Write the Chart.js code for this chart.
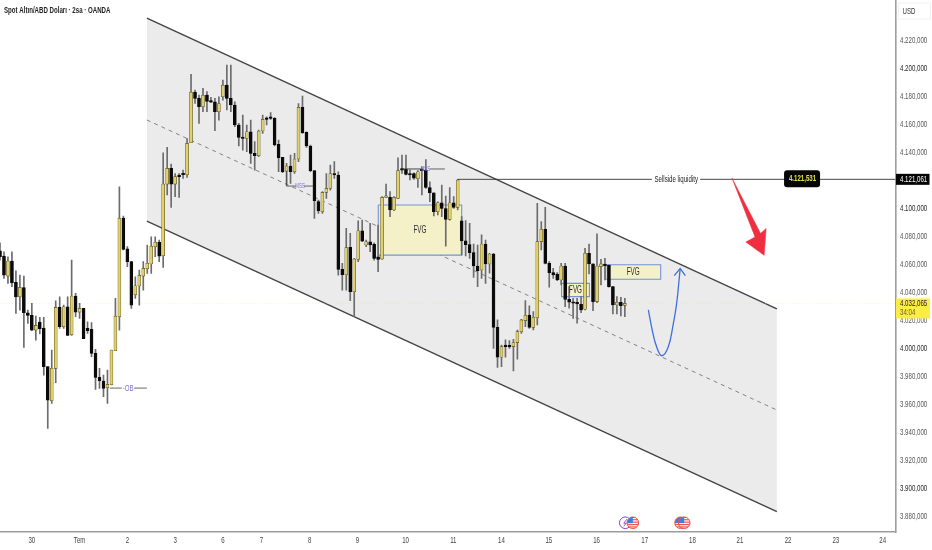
<!DOCTYPE html>
<html>
<head>
<meta charset="utf-8">
<title>Spot Altın/ABD Doları</title>
<script src="https://cdn.jsdelivr.net/npm/chart.js@4"></script>
<style>
  html, body { margin: 0; padding: 0; background: #fff; }
  canvas { display: block; }
</style>
</head>
<body>
<canvas id="goldChart" width="932" height="550"></canvas>
<script>
// ── 2h candles, one entry per bar, left to right ──
const opens = [
  4069.7,4065.9,4051.6,4062.3,4047.1,4036.8,4043.3,4025.4,4023.5,4013.0,
  4018.8,4014.5,3986.9,3962.6,3985.7,4029.2,4015.4,4029.7,4009.7,4037.3,
  4025.9,4028.5,4014.2,4013.5,3996.4,3979.2,3976.6,3971.9,3974.0,3998.3,
  4022.6,4093.0,4071.1,4062.0,4038.3,4044.5,4051.6,4056.9,4060.2,4072.6,
  4075.9,4066.1,4117.3,4128.5,4117.3,4123.0,4124.5,4124.0,4146.9,4183.0,
  4178.5,4172.6,4180.9,4176.4,4176.1,4169.0,4179.7,4188.0,4178.5,4173.8,
  4159.5,4150.4,4149.9,4154.7,4139.2,4137.6,4155.2,4164.7,4164.7,4164.2,
  4145.7,4136.4,4126.6,4130.2,4126.1,4135.2,4172.1,4154.2,4144.5,4126.9,
  4104.9,4097.6,4111.4,4114.2,4124.9,4123.8,4056.4,4052.6,4072.1,4040.4,
  4063.5,4084.0,4073.8,4076.1,4074.2,4065.4,4063.8,4107.8,4107.8,4098.8,
  4107.1,4128.0,4127.8,4124.2,4124.9,4121.1,4127.3,4127.3,4114.9,4111.1,
  4097.6,4104.0,4099.9,4092.1,4104.0,4100.7,4091.0,4076.7,4074.1,4068.4,
  4058.8,4056.0,4074.5,4060.3,4067.4,4015.0,3993.6,4001.7,4001.4,4001.2,
  4004.1,4011.9,4019.8,4023.8,4015.0,4021.9,4076.2,4085.0,4060.7,4054.1,
  4053.1,4048.8,4058.8,4035.0,4032.9,4032.6,4031.4,4027.9,4067.9,4060.3,
  4033.4,4058.4,4059.8,4059.5,4044.1,4031.0,4032.9,4030.7
];
const closes = [
  4065.4,4052.3,4062.3,4046.8,4036.8,4043.5,4025.4,4023.5,4013.0,4016.4,
  4014.0,3986.9,3963.0,3985.7,4029.2,4015.4,4029.7,4009.2,4037.3,4025.9,
  4028.5,4006.9,4012.6,3996.4,3979.2,3976.9,3971.4,3974.2,3998.8,4023.0,
  4093.0,4070.7,4061.9,4030.9,4044.7,4052.1,4057.1,4060.7,4073.0,4075.7,
  4065.9,4117.3,4128.5,4117.3,4122.6,4122.6,4124.0,4146.4,4183.0,4178.5,
  4172.6,4180.7,4176.4,4175.9,4169.0,4174.9,4188.0,4178.5,4173.8,4159.5,
  4150.7,4149.9,4154.7,4139.2,4137.6,4155.2,4163.5,4163.5,4164.2,4145.2,
  4136.1,4126.1,4130.2,4126.1,4135.2,4172.1,4154.0,4144.5,4126.9,4105.4,
  4098.3,4111.4,4114.2,4124.9,4123.8,4056.4,4052.6,4071.9,4040.4,4063.8,
  4084.0,4076.6,4076.1,4073.8,4064.2,4063.5,4107.8,4108.8,4098.8,4107.8,
  4126.9,4127.3,4124.2,4123.8,4121.6,4126.1,4126.9,4114.9,4111.1,4097.6,
  4104.0,4099.9,4092.1,4104.0,4100.7,4120.2,4076.7,4074.1,4068.4,4058.8,
  4055.5,4074.5,4060.3,4067.4,4015.0,3993.6,4001.2,4001.2,4001.0,4004.1,
  4011.9,4020.3,4023.6,4015.0,4022.2,4076.2,4085.0,4060.7,4054.1,4052.4,
  4048.8,4058.8,4035.0,4032.9,4032.2,4031.7,4027.4,4067.9,4060.3,4033.4,
  4058.8,4060.3,4059.1,4044.1,4031.0,4032.9,4030.5,4032.1
];
const highs = [
  4075.4,4069.0,4065.4,4069.0,4055.4,4052.3,4051.6,4027.3,4032.1,4023.0,
  4022.1,4022.1,3986.9,3998.8,4034.0,4036.8,4030.9,4036.8,4063.0,4039.2,
  4032.1,4028.5,4019.0,4018.3,3999.2,3985.7,3980.9,3984.5,3998.8,4035.7,
  4115.4,4094.5,4072.6,4062.0,4051.1,4055.9,4061.9,4073.8,4079.7,4079.7,
  4077.3,4139.7,4143.5,4131.6,4124.9,4124.9,4127.3,4149.9,4195.7,4184.5,
  4180.9,4185.7,4183.3,4179.2,4178.5,4179.7,4191.6,4202.3,4202.3,4176.1,
  4160.7,4166.6,4159.5,4163.0,4147.6,4155.9,4166.6,4165.4,4168.3,4164.9,
  4148.8,4136.4,4132.1,4138.0,4139.2,4174.9,4180.2,4154.7,4145.2,4126.9,
  4105.9,4111.9,4124.9,4130.9,4133.3,4126.1,4060.7,4085.7,4082.1,4064.2,
  4091.1,4091.6,4077.3,4089.2,4075.4,4088.0,4108.3,4117.3,4111.9,4108.3,
  4136.1,4138.0,4138.0,4127.3,4125.4,4126.9,4129.7,4134.9,4119.0,4111.1,
  4104.7,4116.6,4108.8,4114.9,4108.3,4120.7,4094.1,4091.2,4089.3,4074.5,
  4073.8,4081.0,4077.4,4067.9,4067.9,4020.3,4002.4,4006.0,4005.5,4006.4,
  4013.1,4020.7,4034.1,4030.3,4026.2,4103.6,4090.5,4100.7,4061.9,4057.2,
  4054.1,4060.7,4060.7,4044.1,4035.7,4035.7,4036.9,4071.4,4074.5,4060.3,
  4081.7,4063.6,4064.3,4059.5,4044.1,4036.9,4036.4,4035.7
];
const lows = [
  4063.0,4049.9,4046.4,4044.0,4024.9,4027.3,4000.7,4017.8,4012.6,4005.9,
  4010.2,3980.9,3942.8,3960.7,3975.4,4014.2,4014.2,4009.2,4009.2,4022.6,
  4021.4,4006.9,4010.7,3994.0,3970.7,3971.4,3965.4,3960.7,3973.8,3998.3,
  4013.0,4070.2,4058.3,4028.5,4035.7,4030.9,4041.6,4053.5,4053.5,4065.4,
  4061.9,4057.8,4109.5,4100.7,4108.3,4107.8,4121.4,4122.1,4146.9,4174.9,
  4160.7,4169.0,4169.0,4175.4,4155.4,4163.0,4177.3,4170.2,4169.0,4158.3,
  4144.5,4141.6,4140.4,4132.1,4127.3,4136.9,4153.5,4159.5,4163.5,4144.5,
  4126.1,4125.4,4116.6,4117.8,4124.9,4133.3,4153.5,4143.5,4126.1,4092.8,
  4096.4,4096.4,4107.1,4113.0,4121.4,4052.3,4041.6,4041.6,4034.0,4022.6,
  4061.9,4076.1,4072.6,4069.0,4062.9,4054.7,4063.5,4107.8,4094.0,4098.3,
  4107.1,4124.9,4123.8,4120.2,4120.7,4114.9,4109.5,4114.2,4104.7,4094.5,
  4095.2,4094.0,4073.0,4091.6,4099.9,4098.8,4066.7,4066.0,4064.3,4050.7,
  4044.1,4050.0,4046.4,4053.6,4000.0,3986.4,3986.9,3993.6,4000.0,3983.8,
  3992.2,4010.7,4015.5,4014.3,4013.1,4016.7,4070.3,4060.3,4043.6,4050.0,
  4048.4,4045.3,4029.8,4028.6,4021.4,4017.9,4025.5,4027.4,4053.1,4026.9,
  4032.6,4045.3,4048.8,4043.6,4024.5,4024.5,4023.1,4022.6
];

// ── Axis ticks (x is bar number) ──
const dayTicks  = [8, 20, 32, 44, 56, 65.7, 77.8, 89.8, 101.9, 113.9, 126, 137.9, 149.9, 162, 174, 185.9, 198, 210, 221.8];
const dayLabels = ['30', 'Tem', '2', '3', '6', '7', '8', '9', '10', '11', '14', '15', '16', '17', '18', '21', '22', '23', '24'];
const priceTicks = [4220, 4200, 4180, 4160, 4140, 4120, 4100, 4080, 4060, 4040, 4020, 4000, 3980, 3960, 3940, 3920, 3900, 3880];
const priceLabels = ['4.220,000', '4.200,000', '4.180,000', '4.160,000', '4.140,000', '4.120,000', '4.100,000', '4.080,000', '4.060,000',
  '4.040,000', '4.020,000', '4.000,000', '3.980,000', '3.960,000', '3.940,000', '3.920,000', '3.900,000', '3.880,000'];

// ── Channel, in bar number / price ──
const channelBars  = [36.9, 195.2];
const channelUpper = [4235.9, 4028.1];
const channelMid   = [4163.1, 3955.9];
const channelLower = [4090.9, 3883.4];

// ── FVG boxes ──
const fvgLeft   = [95.05, 141.1, 152.2];
const fvgRight  = [116, 148.1, 166];
const fvgTop    = [4102.4, 4046.4, 4059.7];
const fvgBottom = [4066.6, 4036.9, 4049.3];

// ── Hand drawn levels and arrows ──
const obLevel = 3971.6;
const sellsideLevel = 4120.7;
const lastPrice = 4032.065;
const blueArrowBars   = [162.9, 163.9, 165.0, 166.3, 167.9, 169.1, 170.0, 170.9];
const blueArrowPrices = [4027.5, 4012.7, 4000.9, 3994.7, 4000.9, 4016.4, 4031.9, 4056.9];
const blueHeadBars    = [169.4, 170.9, 172.2];
const blueHeadPrices  = [4051.9, 4056.9, 4051.9];
const redArrowBars    = [183.9, 191.1, 192.5, 192.0, 187.4, 189.7, 183.9];
const redArrowPrices  = [4121.7, 4082.1, 4085.6, 4066.4, 4075.9, 4079.5, 4121.7];
const eventBars  = [157.1, 171.0, 159.0, 171.9];
const eventKinds = ['news', 'us', 'us', 'us'];
const eventLevel = 3875.4;

// ── Colour tokens ──
const C_UP      = '#e2d06e';
const C_UP_EDGE = '#57501f';
const C_DOWN    = '#0a0a0a';
const C_WICK    = '#6c6c6c';
const C_CHANNEL = '#ebebeb';
const C_TREND   = '#444444';
const C_FVG     = '#f4f0c8';
const C_FVG_EDGE = '#7291e0';
const C_PURPLE  = '#7b6fd6';
const C_BLUE    = '#3f6fdc';
const C_RED     = '#ef2f40';
const C_AXIS    = '#9c9c9c';
const FONT      = '"Liberation Sans", sans-serif';
const SQUEEZE   = 0.68;   // the source picture is squashed sideways

const points = (xs, ys) => xs.map((x, i) => ({ x, y: ys[i] }));

function lineSet(data, color, width, order, extra) {
  return { type: 'line', data, borderColor: color, borderWidth: width, pointRadius: 0, order, ...extra };
}

// ── Datasets ──
const bodies = opens.map((o, i) => ({ x: i, y: [o, closes[i]] }));
const wicks  = lows.map((l, i) => ({ x: i, y: [l, highs[i]] }));

const fvgSets = fvgLeft.map((l, i) => lineSet(
  points([l, fvgRight[i], fvgRight[i], l, l], [fvgTop[i], fvgTop[i], fvgBottom[i], fvgBottom[i], fvgTop[i]]),
  C_FVG_EDGE, 1.1, 8, { fill: 'shape', backgroundColor: C_FVG }
));

const datasets = [
  lineSet(points(channelBars, channelLower), C_TREND, 1.4, 10),
  lineSet(points(channelBars, channelUpper), C_TREND, 1.4, 10, { fill: { target: 0 }, backgroundColor: C_CHANNEL }),
  lineSet(points(channelBars, channelMid), '#777', 0.9, 9, { borderDash: [4, 4] }),
  lineSet(points([0, 225], [lastPrice, lastPrice]), 'rgba(240,228,120,0.35)', 1, 9, { borderDash: [1, 2] }),
  ...fvgSets,
  { type: 'bar', data: wicks, backgroundColor: C_WICK, barThickness: 1, grouped: false, order: 6 },
  {
    type: 'bar',
    data: bodies,
    backgroundColor: ctx => closes[ctx.dataIndex] >= opens[ctx.dataIndex] ? C_UP : C_DOWN,
    borderColor: ctx => closes[ctx.dataIndex] >= opens[ctx.dataIndex] ? C_UP_EDGE : C_DOWN,
    borderWidth: 0.6,
    borderSkipped: false,
    barThickness: 3,
    minBarLength: 1.5,
    grouped: false,
    order: 5
  },
  lineSet(points([27.6, 30.6], [obLevel, obLevel]), '#555', 0.9, 3),
  lineSet(points([33.7, 36.9], [obLevel, obLevel]), '#555', 0.9, 3),
  lineSet(points([72, 72, 74.4], [4126.1, 4115.9, 4115.9]), '#555', 0.9, 3),
  lineSet(points([76.4, 78.7], [4115.9, 4115.9]), '#555', 0.9, 3),
  lineSet(points([100.9, 105.8], [4128.1, 4128.1]), '#333', 0.9, 3),
  lineSet(points([108, 111.8], [4128.1, 4128.1]), '#555', 0.9, 3),
  lineSet(points([115, 163.8], [sellsideLevel, sellsideLevel]), '#333', 0.9, 3),
  lineSet(points([175.9, 225], [sellsideLevel, sellsideLevel]), '#333', 0.9, 3),
  lineSet(points(blueArrowBars, blueArrowPrices), C_BLUE, 1.3, 2, { tension: 0.4 }),
  lineSet(points(blueHeadBars, blueHeadPrices), C_BLUE, 1.3, 2),
  lineSet(points(redArrowBars, redArrowPrices), C_RED, 0.5, 2, { fill: 'shape', backgroundColor: C_RED })
];

// ── Text, badges and event marks, placed through the scales ──
function drawText(ctx, text, x, y, font, color, align, squeeze) {
  ctx.save();
  ctx.translate(x, y);
  ctx.scale(squeeze || SQUEEZE, 1);
  ctx.font = font;
  ctx.fillStyle = color;
  ctx.textAlign = align || 'center';
  ctx.textBaseline = 'middle';
  ctx.fillText(text, 0, 0);
  ctx.restore();
}

function drawEvent(ctx, px, py, kind) {
  ctx.save();
  ctx.beginPath();
  ctx.arc(px, py, 5.8, 0, Math.PI * 2);
  ctx.fillStyle = '#fff';
  ctx.fill();
  ctx.clip();
  if (kind === 'us') {
    for (let s = -6; s < 6; s += 2.4) {
      ctx.fillStyle = '#ef5350';
      ctx.fillRect(px - 6, py + s, 12, 1.2);
    }
    ctx.fillStyle = '#3d7fe0';
    ctx.fillRect(px - 6, py - 6, 6, 6.4);
  } else {
    ctx.strokeStyle = '#8a3fd0';
    ctx.lineWidth = 0.9;
    ctx.beginPath();
    ctx.moveTo(px + 1.5, py - 3.5);
    ctx.lineTo(px - 1.5, py + 0.5);
    ctx.lineTo(px + 1, py + 0.5);
    ctx.lineTo(px - 1.5, py + 3.5);
    ctx.stroke();
  }
  ctx.restore();
  ctx.beginPath();
  ctx.arc(px, py, 5.8, 0, Math.PI * 2);
  ctx.strokeStyle = kind === 'us' ? '#ef4a4a' : '#8a3fd0';
  ctx.lineWidth = 1;
  ctx.stroke();
}

const overlayPlugin = {
  id: 'overlay',
  afterDraw(chart) {
    const { ctx, scales: { x, y } } = chart;
    const small = '9px ' + FONT;
    ctx.save();

    // axis tick labels
    dayTicks.forEach((t, i) => {
      drawText(ctx, dayLabels[i], x.getPixelForValue(t), 541, small, '#444');
    });
    priceTicks.forEach((t, i) => {
      const color = t % 100 === 0 ? '#1d1d1d' : '#555';
      drawText(ctx, priceLabels[i], x.right + 4.5, y.getPixelForValue(t), small, color, 'left');
    });

    // FVG captions
    fvgLeft.forEach((l, i) => {
      const cx = x.getPixelForValue((l + fvgRight[i]) / 2);
      const cy = y.getPixelForValue((fvgTop[i] + fvgBottom[i]) / 2);
      drawText(ctx, 'FVG', cx, cy, '10.5px ' + FONT, '#2b2b2b', 'center', 0.6);
    });

    // structure tags
    drawText(ctx, '-OB', x.getPixelForValue(32.2), y.getPixelForValue(obLevel), small, C_PURPLE);
    drawText(ctx, 'MSS', x.getPixelForValue(75.4), y.getPixelForValue(4115.9), '6.5px ' + FONT, C_PURPLE);
    drawText(ctx, 'MSS', x.getPixelForValue(106.9), y.getPixelForValue(4128.1), '6.5px ' + FONT, C_PURPLE);

    // sellside caption + floating price badge
    const lvl = y.getPixelForValue(sellsideLevel);
    drawText(ctx, 'Sellside liquidity', x.getPixelForValue(169.9), lvl, small, '#222');
    const bx = x.getPixelForValue(197);
    ctx.fillStyle = '#060606';
    ctx.beginPath();
    ctx.roundRect(bx, lvl - 9, 36, 17, 3);
    ctx.fill();
    drawText(ctx, '4.121,531', bx + 18.5, lvl - 0.5, 'bold 9px ' + FONT, '#e4e43c');

    // title
    drawText(ctx, 'Spot Altın/ABD Doları · 2sa · OANDA', 4, 11, 'bold 9px ' + FONT, '#222', 'left');

    // right axis
    const axisX = x.right;
    ctx.strokeStyle = '#f0f0f0';
    ctx.lineWidth = 1;
    ctx.strokeRect(axisX + 3, 3, 32, 16);
    drawText(ctx, 'USD', axisX + 7, 11.5, small, '#333', 'left');

    ctx.fillStyle = '#050505';
    ctx.fillRect(axisX + 0.5, lvl - 5.5, 33.5, 11);
    drawText(ctx, '4.121,061', axisX + 4.5, lvl, small, '#fff', 'left');

    const lastY = y.getPixelForValue(lastPrice);
    ctx.fillStyle = '#fdec47';
    ctx.fillRect(axisX + 0.5, lastY - 5, 34, 20);
    drawText(ctx, '4.032,065', axisX + 4.5, lastY, small, '#222', 'left');
    drawText(ctx, '34:04', axisX + 4.5, lastY + 9.5, small, '#6b6420', 'left');

    // economic calendar marks
    const evY = y.getPixelForValue(eventLevel);
    eventBars.forEach((b, i) => drawEvent(ctx, x.getPixelForValue(b), evY, eventKinds[i]));
    ctx.restore();
  }
};

// ── Chart ──
new Chart(document.getElementById('goldChart'), {
  type: 'bar',
  data: { datasets },
  plugins: [overlayPlugin],
  options: {
    responsive: false,
    animation: false,
    events: [],
    layout: { padding: 0 },
    plugins: { legend: { display: false }, tooltip: { enabled: false }, title: { display: false } },
    scales: {
      x: {
        type: 'linear',
        offset: false,
        min: 0,
        max: 225,
        grid: { display: false, offset: false },
        border: { display: true, color: C_AXIS, width: 1.6 },
        afterFit: axis => { axis.height = 18; axis.paddingLeft = 0; axis.paddingRight = 0; },
        ticks: { display: false }
      },
      y: {
        type: 'linear',
        position: 'right',
        min: 3868.8,
        max: 4248.8,
        grid: { display: false, drawTicks: false },
        border: { display: true, color: C_AXIS, width: 1.6 },
        afterFit: axis => { axis.width = 36.5; axis.paddingTop = 0; axis.paddingBottom = 0; },
        ticks: { display: false }
      }
    }
  }
});
</script>
</body>
</html>
